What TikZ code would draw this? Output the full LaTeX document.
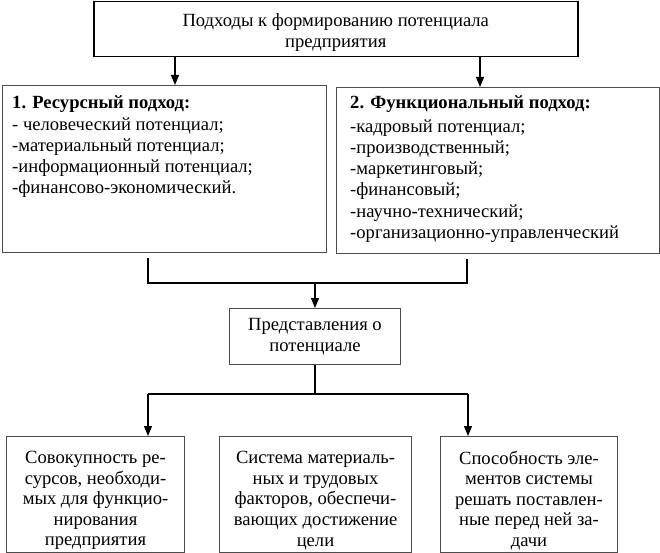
\documentclass[tikz,border=0pt]{standalone}
\usepackage{fontspec}
\setmainfont{Liberation Serif}
\usetikzlibrary{arrows.meta,calc}
\tikzset{
  boxthick/.style={draw=black, line width=1.5pt, inner sep=0pt},
  boxthin/.style={draw=black!70, line width=1pt, inner sep=0pt},
  conn/.style={draw=black, line width=1.2pt},
  arr/.style={conn, -{Triangle[width=8pt,length=10pt]}},
  txt/.style={font=\fontsize{18.6}{21.2}\selectfont, inner sep=0pt},
  txtb/.style={font=\fontsize{18.6}{20.6}\selectfont, inner sep=0pt, align=center},
}
\begin{document}
\begin{tikzpicture}[x=1pt,y=-1pt]
\useasboundingbox (0,0) rectangle (660,553);
% top box
\node[boxthick, anchor=north west, minimum width=484pt, minimum height=55pt] (top) at (93,1) {};
\node[txt, align=center] (topt) at ([yshift=-3pt]top.center)
  {Подходы к формированию потенциала\\предприятия};
% resource approach
\node[boxthin, anchor=north west, minimum width=324pt, minimum height=167pt] (res) at (2,85) {};
\node[txt, anchor=north west, align=left] (rest) at ([shift={(10pt,-10pt)}]res.north west)
  {\textbf{1. Ресурсный подход:}\\[1pt]- человеческий потенциал;\\-материальный потенциал;\\-информационный потенциал;\\-финансово-экономический.};
% functional approach
\node[boxthin, anchor=north west, minimum width=323pt, minimum height=166pt] (fun) at (336,87) {};
\node[txt, anchor=north west, align=left] (funt) at ([shift={(14pt,-8pt)}]fun.north west)
  {\textbf{2. Функциональный подход:}\\[3pt]-кадровый потенциал;\\-производственный;\\-маркетинговый;\\-финансовый;\\-научно-технический;\\-организационно-управленческий};
% representations
\node[boxthin, txt, anchor=north west, minimum width=171pt, minimum height=56pt, align=center] (pred) at (229,308)
  {Представления о\\потенциале};
% bottom boxes
\node[boxthin, anchor=north west, minimum width=178pt, minimum height=116pt] (cA) at (6,436) {};
\node[txtb] (cAt) at ([yshift=-6pt]cA.center)
  {Совокупность ре-\\сурсов, необходи-\\мых для функцио-\\нирования\\предприятия};
\node[boxthin, anchor=north west, minimum width=192pt, minimum height=116pt] (cB) at (219,436) {};
\node[txtb] (cBt) at ([yshift=-6pt]cB.center)
  {Система материаль-\\ных и трудовых\\факторов, обеспечи-\\вающих достижение\\цели};
\node[boxthin, anchor=north west, minimum width=177pt, minimum height=116pt] (cC) at (440,436) {};
\node[txtb] (cCt) at ([yshift=-6pt]cC.center)
  {Способность эле-\\ментов системы\\решать поставлен-\\ные перед ней за-\\дачи};
% connectors
\draw[arr] ([xshift=82pt]top.south west) -- ([xshift=82pt]top.south west |- res.north);
\draw[arr] ([xshift=387pt]top.south west) -- ([xshift=387pt]top.south west |- fun.north);
\coordinate (jl) at (148,283);
\coordinate (jr) at (467,283);
\draw[conn] ([yshift=-5pt]res.south -| jl) -- (jl) -- (jr) -- ([yshift=-5pt]fun.south -| jr);
\draw[arr] (pred.north |- jl) -- (pred.north);
\coordinate (bl) at (148,394);
\coordinate (br) at (468,394);
\draw[conn] (pred.south) -- (pred.south |- bl);
\draw[conn] (bl) -- (br);
\draw[arr] (bl) -- (bl |- cA.north);
\draw[arr] (br) -- (br |- cC.north);
\end{tikzpicture}
\end{document}
